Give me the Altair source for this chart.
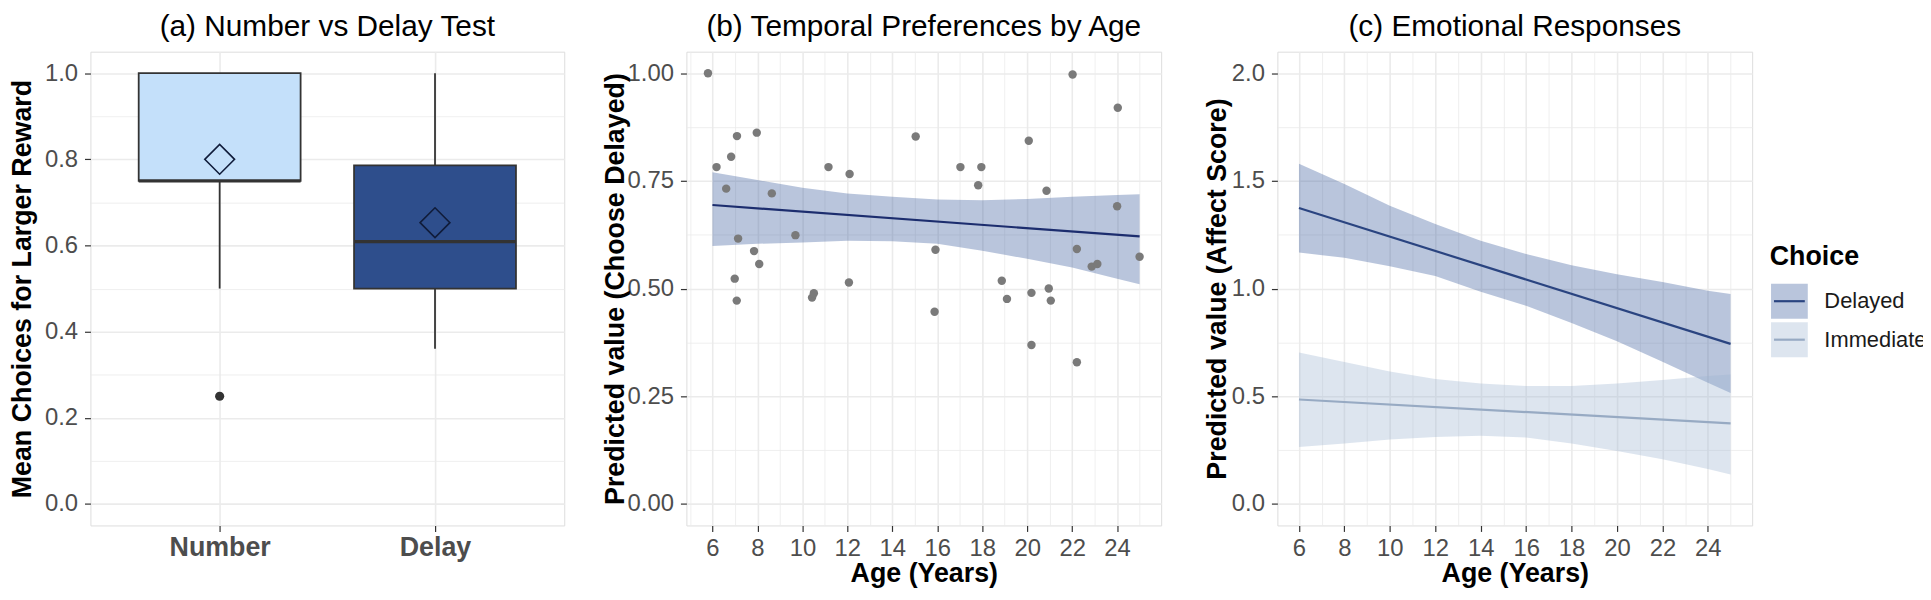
import altair as alt
import pandas as pd

FONT = "Liberation Sans"

# ---------------- Panel (a): box plot ----------------
box_cats = ["Number", "Delay"]
box_q1 = [0.75, 0.50]
box_med = [0.75, 0.609]
box_q3 = [1.00, 0.786]
box_lo = [0.50, 0.36]
box_hi = [1.00, 1.00]
box_mean = [0.80, 0.653]
box_fill = ["#c4e0fa", "#2e4e8c"]
out_cats = ["Number"]
out_vals = [0.25]
ya_ticks = [0.0, 0.1, 0.2, 0.3, 0.4, 0.5, 0.6, 0.7, 0.8, 0.9, 1.0]

# ---------------- Panel (b): scatter + fit ----------------
age_pts = [5.8, 6.18, 6.61, 6.83, 7.09, 6.99, 7.08, 7.14, 7.97, 7.85, 8.08, 8.64,
           9.69, 10.43, 10.51, 11.16, 12.10, 12.07, 15.04, 15.92, 15.88, 17.03,
           17.96, 17.82, 18.87, 19.10, 20.07, 20.19, 20.19, 20.86, 20.96, 21.05,
           22.02, 22.21, 22.21, 22.87, 23.12, 24.03, 24.00, 25.00]
pref_pts = [1.00, 0.782, 0.732, 0.806, 0.854, 0.523, 0.472, 0.616, 0.862, 0.587,
            0.557, 0.721, 0.624, 0.479, 0.489, 0.782, 0.766, 0.514, 0.853, 0.590,
            0.446, 0.782, 0.782, 0.740, 0.518, 0.476, 0.843, 0.490, 0.369, 0.727,
            0.500, 0.472, 0.997, 0.592, 0.329, 0.551, 0.557, 0.920, 0.691, 0.574]
fit_b_age = [6, 25]
fit_b_val = [0.694, 0.621]
band_b_age = [6, 8, 10, 12, 14, 16, 18, 20, 22, 24, 25]
band_b_lo = [0.599, 0.604, 0.607, 0.611, 0.610, 0.604, 0.588, 0.569, 0.549, 0.523, 0.510]
band_b_hi = [0.770, 0.752, 0.734, 0.721, 0.713, 0.707, 0.705, 0.708, 0.713, 0.717, 0.719]
yb_ticks = [0.0, 0.125, 0.25, 0.375, 0.5, 0.625, 0.75, 0.875, 1.0]
xb_ticks = [5, 6, 7, 8, 9, 10, 11, 12, 13, 14, 15, 16, 17, 18, 19, 20, 21, 22, 23, 24, 25]

# ---------------- Panel (c): emotional responses ----------------
choices = ["Delayed", "Immediate"]
band_c_age = [6, 8, 10, 12, 14, 16, 18, 20, 22, 24, 25]
del_lo = [1.167, 1.143, 1.104, 1.058, 0.985, 0.920, 0.840, 0.755, 0.660, 0.563, 0.515]
del_hi = [1.580, 1.485, 1.385, 1.300, 1.222, 1.160, 1.108, 1.067, 1.030, 0.990, 0.975]
imm_lo = [0.264, 0.281, 0.299, 0.311, 0.316, 0.308, 0.281, 0.246, 0.207, 0.162, 0.137]
imm_hi = [0.703, 0.659, 0.615, 0.580, 0.559, 0.548, 0.548, 0.559, 0.576, 0.594, 0.601]
fit_c_age = [6, 25]
del_fit = [1.374, 0.743]
imm_fit = [0.485, 0.374]
band_fill = ["#37599b", "#9eb5d1"]
line_col = ["#2a4480", "#97aac3"]
legend_title = "Choice"
yc_ticks = [0.0, 0.25, 0.5, 0.75, 1.0, 1.25, 1.5, 1.75, 2.0]
xc_ticks = [6, 7, 8, 9, 10, 11, 12, 13, 14, 15, 16, 17, 18, 19, 20, 21, 22, 23, 24, 25]

titles = ["(a) Number vs Delay Test", "(b) Temporal Preferences by Age", "(c) Emotional Responses"]

# ---------------- helpers ----------------
GRID = "#ebebeb"
TICK = "#333333"
LAB = "#4d4d4d"


def cond(test, a, b):
    return {"condition": {"test": test, "value": a}, "value": b}


def y_axis(title, values, major_test, fmt, extent, tpad):
    return alt.Axis(
        title=title, values=values,
        labelExpr=f"({major_test}) ? format(datum.value, '{fmt}') : ''",
        labelFont=FONT, labelFontSize=24, labelColor=LAB, labelPadding=7,
        labelOverlap=False, labelBound=False, labelFlush=False,
        titleFont=FONT, titleFontSize=27, titleFontWeight="bold", titleColor="black",
        titlePadding=tpad, minExtent=extent, maxExtent=extent,
        tickSize=6, tickColor=TICK, tickWidth=1.2,
        tickOpacity=cond(major_test, 1, 0),
        domain=False, grid=True, gridColor=GRID,
        gridWidth=cond(major_test, 1.6, 0.8),
    )


def x_axis(title, values):
    major = "datum.value % 2 == 0"
    return alt.Axis(
        title=title, values=values,
        labelExpr=f"({major}) ? format(datum.value, 'd') : ''",
        labelFont=FONT, labelFontSize=24, labelColor=LAB, labelPadding=5.5,
        labelOverlap=False, labelBound=False, labelFlush=False, labelAngle=0,
        titleFont=FONT, titleFontSize=27, titleFontWeight="bold", titleColor="black",
        titlePadding=5, minExtent=30, maxExtent=30,
        tickSize=6, tickColor=TICK, tickWidth=1.2,
        tickOpacity=cond(major, 1, 0),
        domain=False, grid=True, gridColor=GRID,
        gridWidth=cond(major, 1.6, 0.8),
    )


def ptitle(t):
    return alt.TitleParams(t, font=FONT, fontSize=30, fontWeight="normal", color="black",
                           anchor="middle", frame="group", offset=-14, baseline="alphabetic")


W_A, W_B, W_C, H = 477, 478, 478, 477

# ---------------- Panel (a) ----------------
df_a = pd.DataFrame({"cat": box_cats, "q1": box_q1, "med": box_med, "q3": box_q3,
                     "lo": box_lo, "hi": box_hi, "mean": box_mean})
df_out = pd.DataFrame({"cat": out_cats, "v": out_vals})

xa = alt.X("cat:N", scale=alt.Scale(type="point", domain=box_cats, padding=0.6),
           axis=alt.Axis(title=None, labelFont=FONT, labelFontSize=27, labelFontWeight="bold",
                         labelColor=LAB, labelPadding=3.5, labelAngle=0, tickSize=6,
                         tickColor=TICK, tickWidth=1.2, domain=False, grid=True,
                         gridColor=GRID, gridWidth=1.6))
ya_scale = alt.Scale(domain=[-0.05, 1.05], nice=False, zero=False)
ya_axis = y_axis("Mean Choices for Larger Reward", ya_ticks,
                 "round(datum.value*10) % 2 == 0", ".1f", 49, 5)

base_a = alt.Chart(df_a)
wh_low = base_a.mark_rule(color=TICK, strokeWidth=1.8).encode(
    x=xa, y=alt.Y("lo:Q", scale=ya_scale, axis=ya_axis), y2="q1:Q")
wh_high = base_a.mark_rule(color=TICK, strokeWidth=1.8).encode(
    x=xa, y=alt.Y("q3:Q", scale=ya_scale, axis=ya_axis), y2="hi:Q")
boxes = base_a.mark_bar(size=163, stroke=TICK, strokeWidth=1.8).encode(
    x=xa, y=alt.Y("q1:Q", scale=ya_scale, axis=ya_axis), y2="q3:Q",
    fill=alt.Fill("cat:N", scale=alt.Scale(domain=box_cats, range=box_fill), legend=None))
medians = base_a.mark_tick(size=163, thickness=3.5, color=TICK, opacity=1).encode(
    x=xa, y=alt.Y("med:Q", scale=ya_scale, axis=ya_axis))
means = base_a.mark_point(shape="diamond", size=900, filled=False, stroke="#101c3a",
                          strokeWidth=1.6, opacity=1).encode(
    x=xa, y=alt.Y("mean:Q", scale=ya_scale, axis=ya_axis))
outl = alt.Chart(df_out).mark_circle(size=85, color=TICK, opacity=1).encode(
    x=xa, y=alt.Y("v:Q", scale=ya_scale, axis=ya_axis))

panel_a = alt.layer(wh_low, wh_high, boxes, medians, means, outl).properties(
    width=W_A, height=H, title=ptitle(titles[0]))

# ---------------- Panel (b) ----------------
df_pts = pd.DataFrame({"age": age_pts, "v": pref_pts})
df_fit_b = pd.DataFrame({"age": fit_b_age, "v": fit_b_val})
df_band_b = pd.DataFrame({"age": band_b_age, "lo": band_b_lo, "hi": band_b_hi})

xb_scale = alt.Scale(domain=[4.84, 25.96], nice=False, zero=False)
yb_scale = alt.Scale(domain=[-0.05, 1.05], nice=False, zero=False)
xb_axis = x_axis("Age (Years)", xb_ticks)
yb_axis = y_axis("Predicted value (Choose Delayed)", yb_ticks,
                 "round(datum.value*8) % 2 == 0", ".2f", 55, 2)

band_b = alt.Chart(df_band_b).mark_area(color=band_fill[0], opacity=0.35).encode(
    x=alt.X("age:Q", scale=xb_scale, axis=xb_axis),
    y=alt.Y("lo:Q", scale=yb_scale, axis=yb_axis), y2="hi:Q")
pts_b = alt.Chart(df_pts).mark_circle(size=72, color="#7a7a7a", opacity=1).encode(
    x=alt.X("age:Q", scale=xb_scale, axis=xb_axis),
    y=alt.Y("v:Q", scale=yb_scale, axis=yb_axis))
line_b = alt.Chart(df_fit_b).mark_line(color="#1c2d6e", strokeWidth=2.2).encode(
    x=alt.X("age:Q", scale=xb_scale, axis=xb_axis),
    y=alt.Y("v:Q", scale=yb_scale, axis=yb_axis))

panel_b = alt.layer(band_b, pts_b, line_b).properties(
    width=W_B, height=H, title=ptitle(titles[1]))

# ---------------- Panel (c) ----------------
df_band_c = pd.DataFrame({
    "choice": [choices[0]] * len(band_c_age) + [choices[1]] * len(band_c_age),
    "age": band_c_age + band_c_age,
    "lo": del_lo + imm_lo,
    "hi": del_hi + imm_hi,
})
df_fit_c = pd.DataFrame({
    "choice": [choices[0]] * 2 + [choices[1]] * 2,
    "age": fit_c_age + fit_c_age,
    "v": del_fit + imm_fit,
})
df_leg = pd.DataFrame({"choice": choices})
df_leg_t = pd.DataFrame({"t": [legend_title]})

xc_scale = alt.Scale(domain=[5.05, 25.95], nice=False, zero=False)
yc_scale = alt.Scale(domain=[-0.1, 2.1], nice=False, zero=False)
xc_axis = x_axis("Age (Years)", xc_ticks)
yc_axis = y_axis("Predicted value (Affect Score)", yc_ticks,
                 "round(datum.value*4) % 2 == 0", ".1f", 44, 2)
fill_scale = alt.Scale(domain=choices, range=band_fill)
stroke_scale = alt.Scale(domain=choices, range=line_col)

band_c = alt.Chart(df_band_c).mark_area(fillOpacity=0.35).encode(
    x=alt.X("age:Q", scale=xc_scale, axis=xc_axis),
    y=alt.Y("lo:Q", scale=yc_scale, axis=yc_axis), y2="hi:Q",
    fill=alt.Fill("choice:N", scale=fill_scale, legend=None),
    detail="choice:N")
line_c = alt.Chart(df_fit_c).mark_line(strokeWidth=2.2).encode(
    x=alt.X("age:Q", scale=xc_scale, axis=xc_axis),
    y=alt.Y("v:Q", scale=yc_scale, axis=yc_axis),
    stroke=alt.Stroke("choice:N", scale=stroke_scale, legend=None))
main_c = alt.layer(band_c, line_c)

leg_y_scale = alt.Scale(domain=choices, range=[233.6, 307.6], paddingInner=0.09, paddingOuter=0)
leg_rect = alt.Chart(df_leg).mark_rect(fillOpacity=0.35).encode(
    x=alt.value(497), x2=alt.value(534),
    y=alt.Y("choice:N", scale=leg_y_scale, axis=None),
    fill=alt.Fill("choice:N", scale=fill_scale, legend=None))
leg_rule = alt.Chart(df_leg).mark_rule(strokeWidth=2.2).encode(
    x=alt.value(500), x2=alt.value(531),
    y=alt.Y("choice:N", scale=leg_y_scale, axis=None, bandPosition=0.5),
    stroke=alt.Stroke("choice:N", scale=stroke_scale, legend=None))
leg_text = alt.Chart(df_leg).mark_text(align="left", baseline="middle", font=FONT,
                                       fontSize=22, color="#1a1a1a").encode(
    x=alt.value(550.7),
    y=alt.Y("choice:N", scale=leg_y_scale, axis=None),
    text="choice:N")
leg_title = alt.Chart(df_leg_t).mark_text(align="left", baseline="alphabetic", font=FONT,
                                          fontSize=27, fontWeight="bold", color="black").encode(
    x=alt.value(495.7), y=alt.value(214.3), text="t:N")
legend_c = alt.layer(leg_rect, leg_rule, leg_text, leg_title)

panel_c = alt.layer(main_c, legend_c).resolve_scale(y="independent").properties(
    width=W_C, height=H, title=ptitle(titles[2]))

inner = alt.hconcat(panel_a, panel_b, spacing=36).resolve_scale(
    x="independent", y="independent", fill="independent", stroke="independent")

chart = alt.hconcat(inner, panel_c, spacing=41).resolve_scale(
    x="independent", y="independent", fill="independent", stroke="independent"
).properties(
    padding={"left": 0, "top": 1, "right": -4, "bottom": -1}
).configure_view(stroke="#595959", strokeWidth=1.2).configure(background="white")

chart.save("out.html", embed_options={"renderer": "svg", "actions": False})
